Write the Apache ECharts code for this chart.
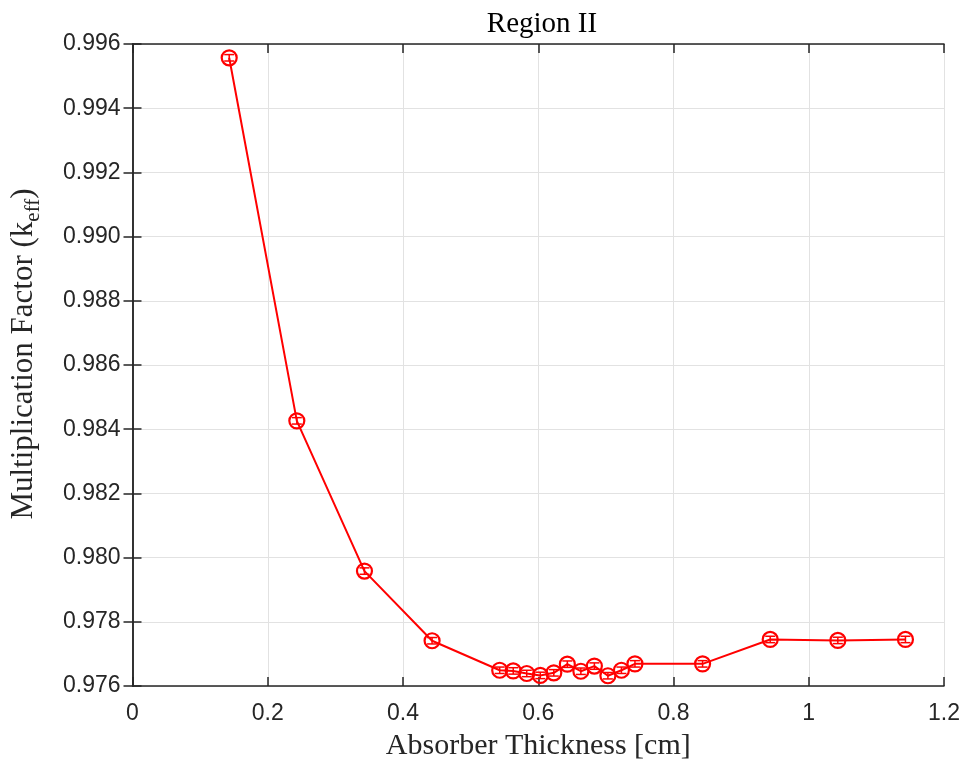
<!DOCTYPE html>
<html>
<head>
<meta charset="utf-8">
<script src="https://cdn.jsdelivr.net/npm/echarts@6/dist/echarts.min.js"></script>
<style>html,body{margin:0;padding:0;background:#fff;}#c{width:963px;height:767px;}</style>
</head>
<body>
<div id="c"></div>
<script>
var thickness = [0.143, 0.243, 0.343, 0.443, 0.543, 0.563, 0.583, 0.603, 0.623, 0.643, 0.663, 0.683, 0.703, 0.723, 0.743, 0.843, 0.943, 1.043, 1.143];
var keff = [0.99557, 0.98426, 0.97958, 0.97741, 0.97649, 0.97647, 0.97639, 0.97633, 0.97641, 0.97668, 0.97646, 0.97662, 0.97632, 0.97649, 0.97669, 0.97669, 0.97745, 0.97742, 0.97745];
var keffErr = [0.0001, 0.0001, 0.0001, 0.0001, 0.0001, 0.0001, 0.0001, 0.0001, 0.0001, 0.0001, 0.0001, 0.0001, 0.0001, 0.0001, 0.0001, 0.0001, 0.0001, 0.0001, 0.0001];
var xTicks = [0, 0.2, 0.4, 0.6, 0.8, 1, 1.2];
var yTicks = [0.976, 0.978, 0.980, 0.982, 0.984, 0.986, 0.988, 0.990, 0.992, 0.994, 0.996];

var axisColor = '#262626';
var lineData = thickness.map(function (x, i) { return [x, keff[i]]; });
var errData = thickness.map(function (x, i) { return [x, keff[i], keffErr[i]]; });

var chart = echarts.init(document.getElementById('c'), null, {renderer: 'canvas'});
var xBase = {
  type: 'value', min: xTicks[0], max: xTicks[xTicks.length - 1], interval: 0.2,
  axisLine: {show: true, lineStyle: {color: axisColor, width: 1.5}},
  axisTick: {show: true, inside: true, length: 9, lineStyle: {color: axisColor, width: 1.5}}
};
var yBase = {
  type: 'value', min: yTicks[0], max: yTicks[yTicks.length - 1], interval: 0.002,
  axisLine: {show: true, lineStyle: {color: axisColor, width: 1.5}},
  axisTick: {show: true, inside: true, length: 9, lineStyle: {color: axisColor, width: 1.5}}
};
chart.setOption({
  animation: false,
  backgroundColor: '#fff',
  title: {
    text: 'Region II', left: 537, top: 5, textAlign: 'center',
    textStyle: {fontFamily: 'Liberation Serif', fontWeight: 'normal', fontSize: 29, color: '#000'}
  },
  grid: {left: 131, right: 19, top: 44, bottom: 81, containLabel: false},
  xAxis: [
    Object.assign({}, xBase, {
      position: 'bottom',
      name: 'Absorber Thickness [cm]', nameLocation: 'middle', nameGap: 45,
      nameTextStyle: {fontFamily: 'Liberation Serif', fontSize: 30, color: axisColor},
      axisLabel: {show: true, margin: 16, fontFamily: 'Liberation Sans', fontSize: 23, color: axisColor,
        formatter: function (v) { return String(Math.round(v * 10) / 10); }},
      splitLine: {show: true, lineStyle: {color: '#e2e2e2', width: 1}}
    }),
    Object.assign({}, xBase, {position: 'top', axisLabel: {show: false}, splitLine: {show: false}})
  ],
  yAxis: [
    Object.assign({}, yBase, {
      position: 'left',
      name: '{a|Multiplication Factor (k}{b|eff}{a|)}', nameLocation: 'middle', nameGap: 91,
      nameTextStyle: {
        padding: [0, 0, 0, 22],
        rich: {
          a: {fontFamily: 'Liberation Serif', fontSize: 31, color: axisColor, lineHeight: 36, verticalAlign: 'middle'},
          b: {fontFamily: 'Liberation Serif', fontSize: 21, color: axisColor, lineHeight: 36, verticalAlign: 'bottom', padding: [0, 0, -2, 0]}
        }
      },
      axisLabel: {show: true, margin: 12, fontFamily: 'Liberation Sans', fontSize: 23, color: axisColor,
        formatter: function (v) { return v.toFixed(3); }},
      splitLine: {show: true, lineStyle: {color: '#e2e2e2', width: 1}}
    }),
    Object.assign({}, yBase, {position: 'right', axisLabel: {show: false}, splitLine: {show: false}})
  ],
  series: [
    {
      type: 'line', xAxisIndex: 0, yAxisIndex: 0, data: lineData,
      lineStyle: {color: '#ff0000', width: 2},
      symbol: 'circle', symbolSize: 15,
      itemStyle: {color: 'rgba(255,255,255,0)', borderColor: '#ff0000', borderWidth: 2.2},
      z: 3
    },
    {
      type: 'custom', xAxisIndex: 0, yAxisIndex: 0, data: errData, z: 4,
      renderItem: function (params, api) {
        var x = api.value(0), y = api.value(1), e = api.value(2);
        var lo = api.coord([x, y - e]);
        var hi = api.coord([x, y + e]);
        var w = 5;
        var st = {stroke: '#ff0000', lineWidth: 1.5};
        return {
          type: 'group',
          children: [
            {type: 'line', shape: {x1: lo[0], y1: lo[1], x2: hi[0], y2: hi[1]}, style: st},
            {type: 'line', shape: {x1: lo[0] - w, y1: lo[1], x2: lo[0] + w, y2: lo[1]}, style: st},
            {type: 'line', shape: {x1: hi[0] - w, y1: hi[1], x2: hi[0] + w, y2: hi[1]}, style: st}
          ]
        };
      }
    }
  ]
});
</script>
</body>
</html>
